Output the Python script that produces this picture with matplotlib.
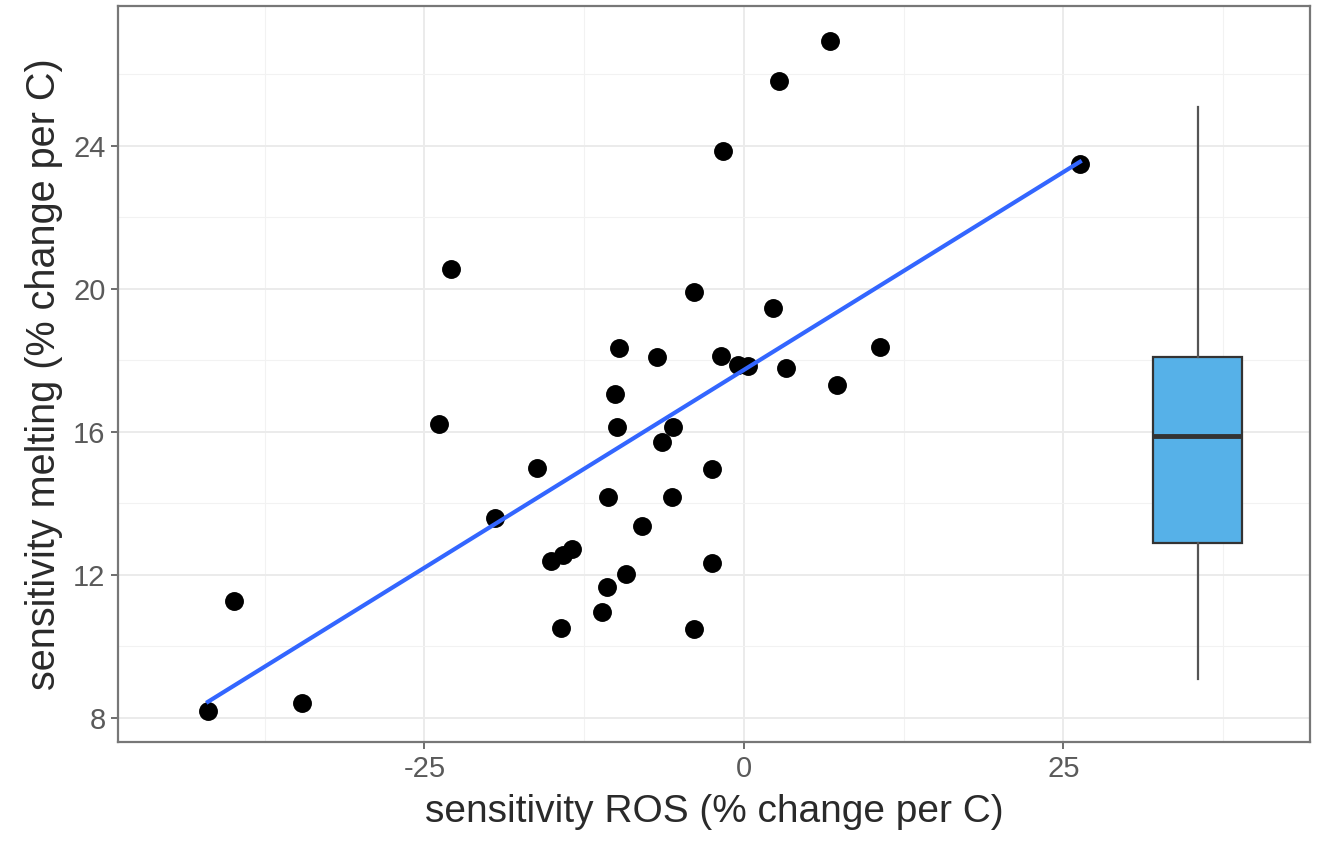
import numpy as np
import matplotlib
matplotlib.use("Agg")
import matplotlib.pyplot as plt
from matplotlib.ticker import MultipleLocator

plt.rcParams['font.family'] = ['Liberation Sans', 'DejaVu Sans']
plt.rcParams['axes.unicode_minus'] = False

# sensitivity ROS (x) and sensitivity melting (y)
ros = [-41.94, -39.91, -34.59, -23.87, -22.93, -19.48, -16.20, -15.10, -14.16, -13.46,
       -14.32, -11.11, -10.72, -10.64, -10.09, -9.94, -9.78, -9.23, -7.98, -6.81,
       -6.42, -5.56, -5.63, -3.91, -3.91, -2.50, -2.50, -1.80, -1.64, -0.47,
       0.31, 2.27, 2.74, 3.29, 6.73, 7.28, 10.64, 26.29]
melt = [8.19, 11.26, 8.41, 16.23, 20.56, 13.58, 14.98, 12.38, 12.55, 12.72,
        10.51, 10.96, 11.65, 14.17, 17.07, 16.12, 18.33, 12.02, 13.36, 18.08,
        15.70, 16.12, 14.17, 19.92, 10.48, 14.95, 12.32, 18.11, 23.86, 17.88,
        17.83, 19.47, 25.82, 17.77, 26.93, 17.30, 18.36, 23.50]

# boxplot summary on the right
box_x = 35.5
box_stats = dict(whislo=9.08, q1=12.88, med=15.87, q3=18.08, whishi=25.09)

x_ticks = [-25, 0, 25]
y_ticks = [8, 12, 16, 20, 24]

fig = plt.figure(figsize=(13.2, 8.43), dpi=100)
ax = fig.add_axes([0.0894, 0.1198, 0.9030, 0.8730])

ax.set_xlim(-48.98, 44.29)
ax.set_ylim(7.32, 27.91)
ax.set_xticks(x_ticks)
ax.set_yticks(y_ticks)
ax.xaxis.set_minor_locator(MultipleLocator(12.5))
ax.yaxis.set_minor_locator(MultipleLocator(2))
ax.grid(which='major', color='#EBEBEB', linewidth=1.4, zorder=0)
ax.grid(which='minor', color='#F2F2F2', linewidth=0.8, zorder=0)
ax.set_axisbelow(True)
ax.tick_params(which='minor', length=0)
ax.tick_params(which='major', length=5, width=1.2, color='#555555',
               labelsize=21, labelcolor='#5a5a5a', pad=4)
for s in ax.spines.values():
    s.set_color('#777777')
    s.set_linewidth(1.6)

ax.scatter(ros, melt, s=185, color='black', zorder=3, linewidths=0)

# linear fit
k, b = np.polyfit(ros, melt, 1)
xs = np.array([min(ros), max(ros)])
ax.plot(xs, k * xs + b, color='#3366FF', linewidth=3, zorder=4)

st = dict(box_stats)
st['fliers'] = []
ax.bxp([st], positions=[box_x], widths=7.0, patch_artist=True, showcaps=False,
       boxprops=dict(facecolor='#56B1E8', edgecolor='#333333', linewidth=1.6),
       medianprops=dict(color='#333333', linewidth=3.5),
       whiskerprops=dict(color='#555555', linewidth=1.6), manage_ticks=False,
       zorder=3)

ax.set_xlabel('sensitivity ROS (% change per C)', fontsize=28, color='#2a2a2a', labelpad=8)
ax.set_ylabel('sensitivity melting (% change per C)', fontsize=28.5, color='#2a2a2a', labelpad=7)

fig.savefig('out.png', dpi=100)
